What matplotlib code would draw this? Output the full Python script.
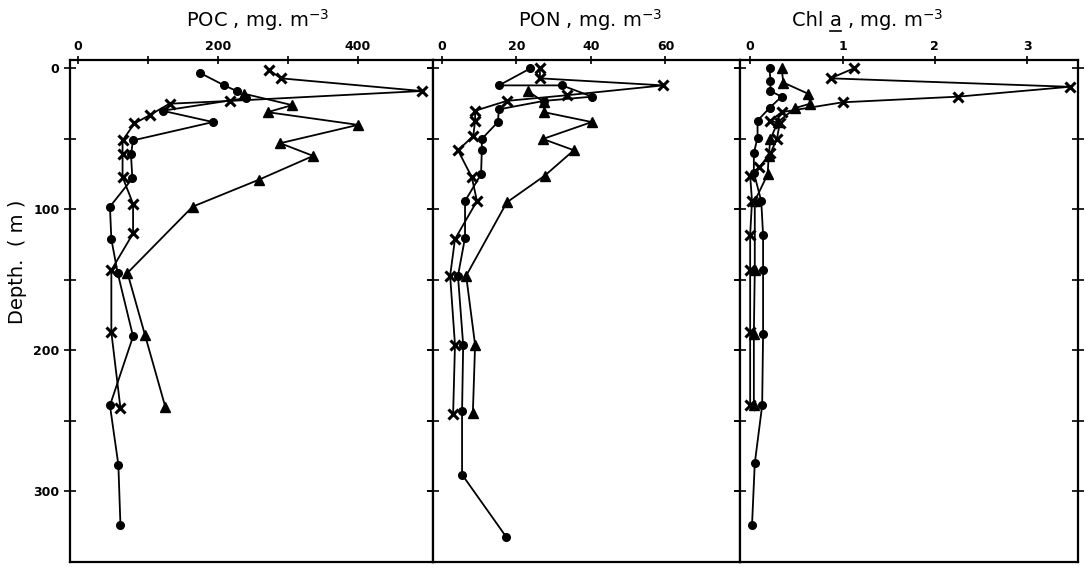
import matplotlib
matplotlib.use("Agg")
import matplotlib.pyplot as plt
from matplotlib.lines import Line2D

# depth profiles: (value, depth m)
poc_dot = [174, 209, 227, 240, 121, 193, 79, 76, 78, 46, 48, 57, 79, 46, 58, 61]
poc_dot_z = [3, 12, 16, 21, 30, 38, 51, 61, 78, 98, 121, 145, 190, 239, 281, 324]
poc_cross = [273, 290, 491, 218, 131, 103, 81, 64, 64, 64, 79, 79, 48, 48, 61]
poc_cross_z = [1, 7, 16, 23, 25, 33, 39, 51, 61, 77, 96, 117, 143, 187, 241]
poc_tri = [238, 306, 271, 400, 289, 336, 258, 164, 71, 96, 125]
poc_tri_z = [18, 26, 31, 40, 53, 62, 79, 98, 145, 189, 240]

pon_dot = [23.7, 15.3, 32.2, 40.3, 27.4, 15.3, 15.0, 10.7, 10.7, 10.5, 6.2, 6.2, 4.3, 5.7, 5.4, 5.4, 17.2]
pon_dot_z = [0, 12, 12, 20, 23, 29, 38, 50, 58, 75, 94, 120, 147, 196, 243, 288, 332]
pon_cross = [26.3, 26.3, 59.4, 33.5, 17.4, 8.9, 8.9, 8.4, 4.3, 8.0, 9.4, 3.5, 2.2, 3.5, 3.0]
pon_cross_z = [0, 7, 12, 19, 23, 30, 37, 48, 58, 77, 94, 121, 147, 196, 245]
pon_tri = [23.0, 27.5, 27.4, 40.2, 27.1, 35.4, 27.6, 17.4, 6.5, 8.9, 8.3]
pon_tri_z = [16, 24, 31, 38, 50, 58, 76, 95, 147, 196, 244]

chl_dot = [0.21, 0.22, 0.22, 0.34, 0.21, 0.08, 0.08, 0.04, 0.04, 0.12, 0.14, 0.14, 0.14, 0.13, 0.05, 0.02]
chl_dot_z = [0, 9, 16, 20, 28, 37, 49, 60, 74, 94, 118, 143, 188, 239, 280, 324]
chl_cross = [1.12, 0.87, 3.46, 2.25, 1.00, 0.34, 0.22, 0.32, 0.29, 0.22, 0.10, 0.0, 0.02, 0.0, 0.0, 0.0, 0.0]
chl_cross_z = [0, 7, 13, 20, 24, 31, 37, 39, 50, 60, 70, 76, 94, 118, 143, 187, 239]
chl_tri = [0.34, 0.36, 0.63, 0.65, 0.49, 0.30, 0.22, 0.20, 0.19, 0.05, 0.05, 0.04, 0.04]
chl_tri_z = [0, 10, 18, 25, 28, 38, 50, 62, 75, 94, 143, 188, 239]

W, H = 1089, 568
fig = plt.figure(figsize=(W / 100, H / 100), dpi=100)
renderer = fig.canvas.get_renderer()


def px_axes(x0, x1, y0, y1):
    return fig.add_axes([x0 / W, 1 - y1 / H, (x1 - x0) / W, (y1 - y0) / H])


def title_parts(xc, parts, fs=14):
    # lay out pieces left to right, centred on xc (pixels); underline flagged pieces
    widths = []
    for txt, _ in parts:
        t = fig.text(0, 0, txt, fontsize=fs)
        widths.append(t.get_window_extent(renderer).width)
        t.remove()
    x = xc - sum(widths) / 2
    y = H - 20
    for (txt, under), w in zip(parts, widths):
        fig.text(x / W, y / H, txt, fontsize=fs, ha="left", va="center")
        if under:
            fig.add_artist(Line2D([x / W, (x + w) / W], [(y - 11) / H, (y - 11) / H],
                                  color="black", lw=1.2))
        x += w


panels = [
    dict(box=(70, 433), xlim=(-11, 507), ticks=[0, 100, 200, 300, 400],
         labels=["0", "", "200", "", "400"],
         title=[(r"POC , mg. m$^{-3}$", False)], tx=258,
         series=[(poc_dot, poc_dot_z, "o"), (poc_cross, poc_cross_z, "x"), (poc_tri, poc_tri_z, "^")]),
    dict(box=(433, 740), xlim=(-2.4, 80), ticks=[0, 20, 40, 60],
         labels=["0", "20", "40", "60"],
         title=[(r"PON , mg. m$^{-3}$", False)], tx=590,
         series=[(pon_dot, pon_dot_z, "o"), (pon_cross, pon_cross_z, "x"), (pon_tri, pon_tri_z, "^")]),
    dict(box=(740, 1078), xlim=(-0.11, 3.55), ticks=[0, 1, 2, 3],
         labels=["0", "1", "2", "3"],
         title=[("Chl ", False), ("a", True), (r" , mg. m$^{-3}$", False)], tx=868,
         series=[(chl_dot, chl_dot_z, "o"), (chl_cross, chl_cross_z, "x"), (chl_tri, chl_tri_z, "^")]),
]

marker_size = {"o": 5.5, "x": 7, "^": 7}

for i, p in enumerate(panels):
    ax = px_axes(p["box"][0], p["box"][1], 60, 562)
    for xs, zs, m in p["series"]:
        ax.plot(xs, zs, color="black", lw=1.3, marker=m, ms=marker_size[m],
                mew=2.2 if m == "x" else 1, mfc="black", mec="black")
    ax.set_xlim(*p["xlim"])
    ax.set_ylim(350, -6)
    ax.xaxis.tick_top()
    ax.set_xticks(p["ticks"])
    ax.set_xticklabels(p["labels"], fontsize=9, fontweight="bold")
    ax.tick_params(axis="x", direction="inout", length=6, width=1.2, pad=2)
    ax.set_yticks([0, 50, 100, 150, 200, 250, 300])
    ax.tick_params(axis="y", direction="inout", length=8, width=1.2, right=True)
    if i == 0:
        ax.set_yticklabels(["0", "", "100", "", "200", "", "300"], fontsize=9, fontweight="bold")
    else:
        ax.set_yticklabels([])
    for s in ax.spines.values():
        s.set_linewidth(1.6)
    title_parts(p["tx"], p["title"])

fig.text(18 / W, 1 - 262 / H, "Depth.  ( m )", rotation=90, ha="center", va="center", fontsize=14)

fig.savefig("out.png", dpi=100)
